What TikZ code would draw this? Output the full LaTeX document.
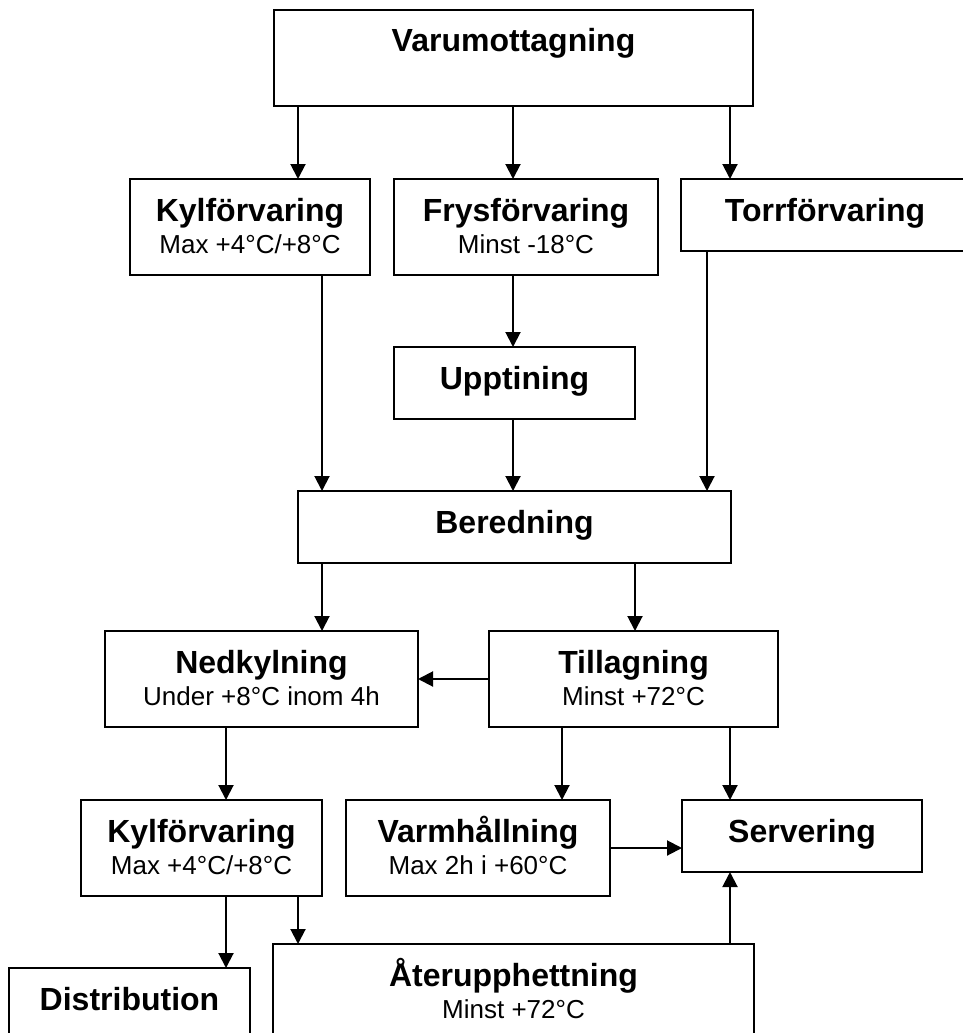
\documentclass[tikz,border=0pt]{standalone}
\usepackage{fontspec}
\setmainfont{Liberation Sans}
\usetikzlibrary{arrows.meta,calc}
\tikzset{
	boite/.style={draw,line width=2pt,inner sep=0pt,outer sep=0pt,anchor=north,text height=42pt},
	haute/.style={boite,text depth=54pt},
	basse/.style={boite,text depth=30pt},
	fleche/.style={line width=2pt,-{Triangle[length=15pt,width=15pt]}}
}
\newcommand{\titre}[1]{{\fontsize{32}{38}\selectfont\bfseries #1}}
\newcommand{\etape}[2]{\vtop{\baselineskip=32pt
		\hbox to 0pt{\hss\fontsize{32}{38}\selectfont\bfseries #1\hss}
		\hbox to 0pt{\hss\fontsize{26}{30}\selectfont #2\hss}}}

\begin{document}
\begin{tikzpicture}[x=1pt,y=-1pt]
				\useasboundingbox (0,0) rectangle (962,1033);
				
				%Etapes
				\node[haute,minimum width=479pt] (varu) at (513.5,10) {\titre{Varumottagning}};
				
				\node[haute,minimum width=240pt] (kyl) at (250,179) {\etape{Kylförvaring}{Max +4°C/+8°C}};
				\node[haute,minimum width=264pt] (frys) at (526,179) {\etape{Frysförvaring}{Minst -18°C}};
				\node[basse,minimum width=288pt] (torr) at (825,179) {\titre{Torrförvaring}};
				
				\node[basse,minimum width=241pt] (upp) at (514.5,347) {\titre{Upptining}};
				\node[basse,minimum width=433pt] (bered) at (514.5,491) {\titre{Beredning}};
				
				\node[haute,minimum width=313pt] (ned) at (261.5,631) {\etape{Nedkylning}{Under +8°C inom 4h}};
				\node[haute,minimum width=289pt] (till) at (633.5,631) {\etape{Tillagning}{Minst +72°C}};
				
				\node[haute,minimum width=241pt] (kyl2) at (201.5,800) {\etape{Kylförvaring}{Max +4°C/+8°C}};
				\node[haute,minimum width=264pt] (varm) at (478,800) {\etape{Varmhållning}{Max 2h i +60°C}};
				\node[basse,minimum width=240pt] (serv) at (802,800) {\titre{Servering}};
				
				\node[haute,minimum width=241pt] (dist) at (129.5,968) {\titre{Distribution}};
				\node[haute,minimum width=481pt] (ater) at (513.5,944) {\etape{Återupphettning}{Minst +72°C}};
				
				%Colonnes et lignes des fleches
				\coordinate (xa) at (298,0);
				\coordinate (xb) at (322,0);
				\coordinate (xc) at (513,0);
				\coordinate (xd) at (635,0);
				\coordinate (xe) at (707,0);
				\coordinate (xf) at (730,0);
				\coordinate (xg) at (226,0);
				\coordinate (xh) at (562,0);
				\coordinate (ya) at (0,679);
				\coordinate (yb) at (0,848);
				
				%Fleches
				\draw[fleche] (varu.south -| xa) -- (kyl.north -| xa);
				\draw[fleche] (varu.south -| xc) -- (frys.north -| xc);
				\draw[fleche] (varu.south -| xf) -- (torr.north -| xf);
				
				\draw[fleche] (frys.south -| xc) -- (upp.north -| xc);
				\draw[fleche] (kyl.south -| xb) -- (bered.north -| xb);
				\draw[fleche] (upp.south -| xc) -- (bered.north -| xc);
				\draw[fleche] (torr.south -| xe) -- (bered.north -| xe);
				
				\draw[fleche] (bered.south -| xb) -- (ned.north -| xb);
				\draw[fleche] (bered.south -| xd) -- (till.north -| xd);
				\draw[fleche] (till.west |- ya) -- (ned.east |- ya);
				
				\draw[fleche] (ned.south -| xg) -- (kyl2.north -| xg);
				\draw[fleche] (till.south -| xh) -- (varm.north -| xh);
				\draw[fleche] (till.south -| xf) -- (serv.north -| xf);
				\draw[fleche] (varm.east |- yb) -- (serv.west |- yb);
				
				\draw[fleche] (kyl2.south -| xg) -- (dist.north -| xg);
				\draw[fleche] (kyl2.south -| xa) -- (ater.north -| xa);
				\draw[fleche] (ater.north -| xf) -- (serv.south -| xf);
				
\end{tikzpicture}
\end{document}
